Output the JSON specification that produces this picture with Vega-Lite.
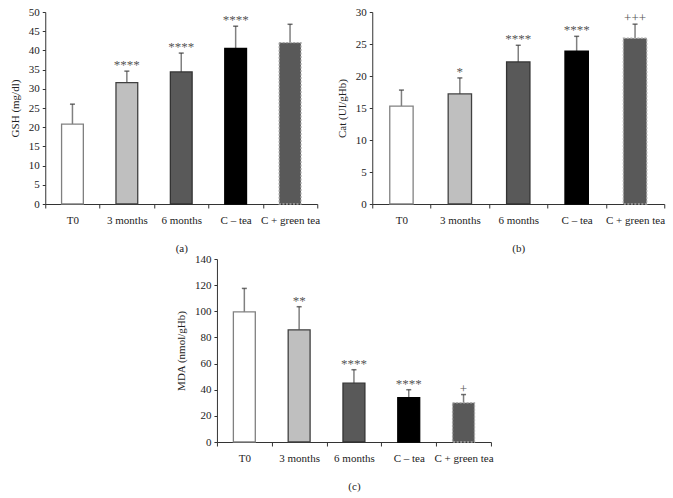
{
  "$schema": "https://vega.github.io/schema/vega-lite/v6.json",
  "padding": {"left": 9, "top": 6, "right": 5, "bottom": 5},
  "background": "white",
  "config": {
    "view": {"stroke": null},
    "font": "Liberation Serif",
    "axis": {
      "labelFont": "Liberation Serif", "titleFont": "Liberation Serif",
      "labelFontSize": 11, "titleFontSize": 11, "titleFontWeight": "normal",
      "labelColor": "#222", "titleColor": "#222",
      "domainColor": "#333", "tickColor": "#333", "grid": false
    },
    "concat": {"spacing": 16}
  },
  "datasets": {
    "all": [
      {"panel": "a", "group": "T0", "value": 20.8, "upper": 26.0, "sig": ""},
      {"panel": "a", "group": "3 months", "value": 31.6, "upper": 34.6, "sig": "****"},
      {"panel": "a", "group": "6 months", "value": 34.4, "upper": 39.3, "sig": "****"},
      {"panel": "a", "group": "C \u2013 tea", "value": 40.5, "upper": 46.3, "sig": "****"},
      {"panel": "a", "group": "C + green tea", "value": 42.0, "upper": 46.8, "sig": ""},
      {"panel": "b", "group": "T0", "value": 15.3, "upper": 17.8, "sig": ""},
      {"panel": "b", "group": "3 months", "value": 17.2, "upper": 19.7, "sig": "*"},
      {"panel": "b", "group": "6 months", "value": 22.2, "upper": 24.8, "sig": "****"},
      {"panel": "b", "group": "C \u2013 tea", "value": 23.9, "upper": 26.2, "sig": "****"},
      {"panel": "b", "group": "C + green tea", "value": 25.9, "upper": 28.1, "sig": "+++"},
      {"panel": "c", "group": "T0", "value": 99.5, "upper": 117.5, "sig": ""},
      {"panel": "c", "group": "3 months", "value": 85.8, "upper": 103.5, "sig": "**"},
      {"panel": "c", "group": "6 months", "value": 45.0, "upper": 55.3, "sig": "****"},
      {"panel": "c", "group": "C \u2013 tea", "value": 34.0, "upper": 40.0, "sig": "****"},
      {"panel": "c", "group": "C + green tea", "value": 30.0, "upper": 36.3, "sig": "+"}
    ]
  },
  "vconcat": [
    {
      "hconcat": [
        {
          "width": 272, "height": 192,
          "data": {"name": "all"},
          "transform": [{"filter": "datum.panel === 'a'"}],
          "encoding": {
            "x": {"field": "group", "type": "nominal", "sort": null,
              "scale": {"paddingInner": 0, "paddingOuter": 0},
              "axis": {"title": "(a)", "labelAngle": 0, "tickBand": "extent", "tickSize": 4, "labelPadding": 6, "titlePadding": 17}},
            "y": {"type": "quantitative", "scale": {"domain": [0, 50]},
              "axis": {"title": "GSH (mg/dl)", "values": [0,5,10,15,20,25,30,35,40,45,50], "tickSize": 3, "labelPadding": 3, "titlePadding": 8}}
          },
          "layer": [
            {"mark": {"type": "rule", "color": "#808080", "strokeWidth": 1.5},
             "encoding": {"y": {"field": "value"}, "y2": {"field": "upper"}}},
            {"mark": {"type": "tick", "color": "#333", "size": 5, "thickness": 1.5, "orient": "horizontal"},
             "encoding": {"y": {"field": "upper"}}},
            {"mark": {"type": "bar", "width": {"band": 0.4}, "strokeWidth": 1.3},
             "encoding": {
               "y": {"field": "value"},
               "fill": {"field": "group", "sort": null, "legend": null, "scale": {"domain": ["T0","3 months","6 months","C \u2013 tea","C + green tea"], "range": ["#ffffff","#bfbfbf","#595959","#000000","#595959"]}},
               "stroke": {"field": "group", "legend": null, "scale": {"domain": ["T0","3 months","6 months","C \u2013 tea","C + green tea"], "range": ["#808080","#404040","#333333","#000000","#a6a6a6"]}},
               "strokeDash": {"field": "group", "legend": null, "scale": {"domain": ["T0","3 months","6 months","C \u2013 tea","C + green tea"], "range": [[1,0],[1,0],[1,0],[1,0],[2,1.5]]}}
             }},
            {"mark": {"type": "text", "baseline": "middle", "dy": -6, "fontSize": 13, "color": "#555"},
             "encoding": {"y": {"field": "upper"}, "text": {"field": "sig"}}}
          ]
        },
        {
          "width": 292, "height": 192,
          "data": {"name": "all"},
          "transform": [{"filter": "datum.panel === 'b'"}],
          "encoding": {
            "x": {"field": "group", "type": "nominal", "sort": null,
              "scale": {"paddingInner": 0, "paddingOuter": 0},
              "axis": {"title": "(b)", "labelAngle": 0, "tickBand": "extent", "tickSize": 4, "labelPadding": 6, "titlePadding": 17}},
            "y": {"type": "quantitative", "scale": {"domain": [0, 30]},
              "axis": {"title": "Cat (UI/gHb)", "values": [0,5,10,15,20,25,30], "tickSize": 3, "labelPadding": 3, "titlePadding": 8}}
          },
          "layer": [
            {"mark": {"type": "rule", "color": "#808080", "strokeWidth": 1.5},
             "encoding": {"y": {"field": "value"}, "y2": {"field": "upper"}}},
            {"mark": {"type": "tick", "color": "#333", "size": 5, "thickness": 1.5, "orient": "horizontal"},
             "encoding": {"y": {"field": "upper"}}},
            {"mark": {"type": "bar", "width": {"band": 0.4}, "strokeWidth": 1.3},
             "encoding": {
               "y": {"field": "value"},
               "fill": {"field": "group", "sort": null, "legend": null, "scale": {"domain": ["T0","3 months","6 months","C \u2013 tea","C + green tea"], "range": ["#ffffff","#bfbfbf","#595959","#000000","#595959"]}},
               "stroke": {"field": "group", "legend": null, "scale": {"domain": ["T0","3 months","6 months","C \u2013 tea","C + green tea"], "range": ["#808080","#404040","#333333","#000000","#a6a6a6"]}},
               "strokeDash": {"field": "group", "legend": null, "scale": {"domain": ["T0","3 months","6 months","C \u2013 tea","C + green tea"], "range": [[1,0],[1,0],[1,0],[1,0],[2,1.5]]}}
             }},
            {"mark": {"type": "text", "baseline": "middle", "dy": -6, "fontSize": 13, "color": "#555"},
             "encoding": {"y": {"field": "upper"}, "text": {"field": "sig"}}}
          ]
        }
      ]
    },
    {
      "width": 274, "height": 183,
      "data": {"name": "all"},
      "transform": [{"filter": "datum.panel === 'c'"}],
      "encoding": {
        "x": {"field": "group", "type": "nominal", "sort": null,
          "scale": {"paddingInner": 0, "paddingOuter": 0},
          "axis": {"title": "(c)", "labelAngle": 0, "tickBand": "extent", "tickSize": 4, "labelPadding": 6, "titlePadding": 17}},
        "y": {"type": "quantitative", "scale": {"domain": [0, 140]},
          "axis": {"title": "MDA (nmol/gHb)", "values": [0,20,40,60,80,100,120,140], "tickSize": 3, "labelPadding": 3, "titlePadding": 8}}
      },
      "layer": [
        {"mark": {"type": "rule", "color": "#808080", "strokeWidth": 1.5},
         "encoding": {"y": {"field": "value"}, "y2": {"field": "upper"}}},
        {"mark": {"type": "tick", "color": "#333", "size": 5, "thickness": 1.5, "orient": "horizontal"},
         "encoding": {"y": {"field": "upper"}}},
        {"mark": {"type": "bar", "width": {"band": 0.4}, "strokeWidth": 1.3},
         "encoding": {
           "y": {"field": "value"},
           "fill": {"field": "group", "sort": null, "legend": null, "scale": {"domain": ["T0","3 months","6 months","C \u2013 tea","C + green tea"], "range": ["#ffffff","#bfbfbf","#595959","#000000","#595959"]}},
           "stroke": {"field": "group", "legend": null, "scale": {"domain": ["T0","3 months","6 months","C \u2013 tea","C + green tea"], "range": ["#808080","#404040","#333333","#000000","#a6a6a6"]}},
           "strokeDash": {"field": "group", "legend": null, "scale": {"domain": ["T0","3 months","6 months","C \u2013 tea","C + green tea"], "range": [[1,0],[1,0],[1,0],[1,0],[2,1.5]]}}
         }},
        {"mark": {"type": "text", "baseline": "middle", "dy": -6, "fontSize": 13, "color": "#555"},
         "encoding": {"y": {"field": "upper"}, "text": {"field": "sig"}}}
      ]
    }
  ],
  "center": true,
  "spacing": 0
}
